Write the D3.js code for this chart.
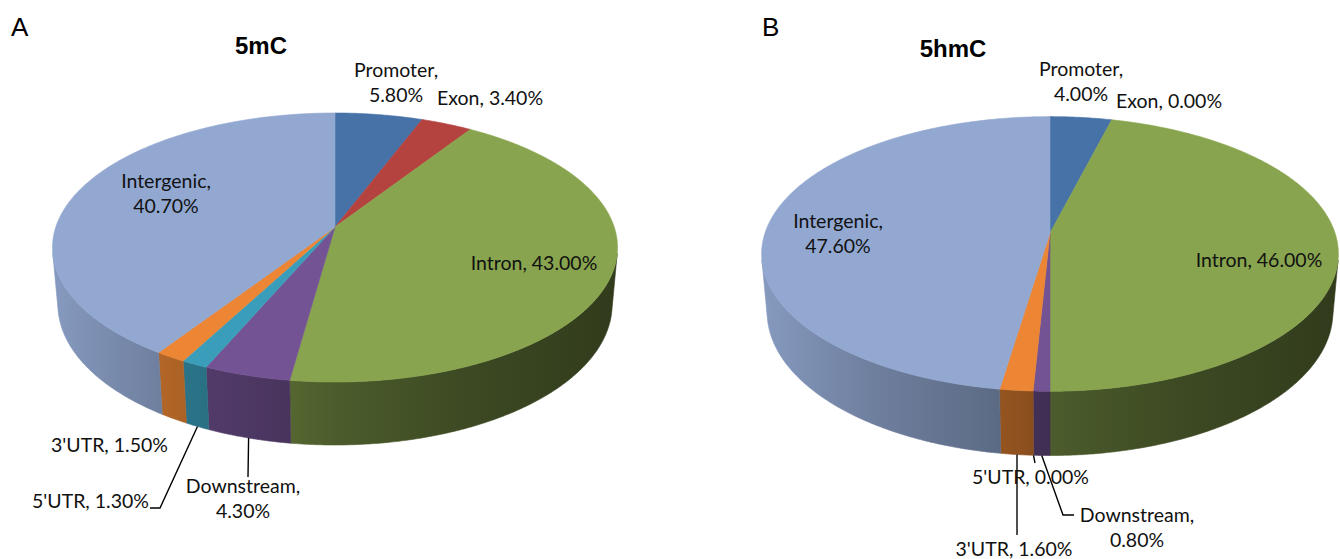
<!DOCTYPE html>
<html>
<head>
<meta charset="utf-8">
<script src="https://cdn.jsdelivr.net/npm/d3@7"></script>
<style>
  html, body { margin: 0; padding: 0; background: #ffffff; }
  svg { display: block; }
</style>
</head>
<body>
<svg id="chart" width="1340" height="559"></svg>
<script>
// ---- data ----
const categories = ["Promoter", "Exon", "Intron", "Downstream", "5'UTR", "3'UTR", "Intergenic"];
const values5mC  = [5.8, 3.4, 43.0, 4.3, 1.3, 1.5, 40.7];
const values5hmC = [4.0, 0.0, 46.0, 0.8, 0.0, 1.6, 47.6];
const panelLetters = ["A", "B"];
const panelTitles  = ["5mC", "5hmC"];

// top-face colour of each category
const sliceColors = ["#4672A8", "#B4423F", "#88A44E", "#735394", "#3A9EBA", "#EC8634", "#92A8D1"];

// ---- 3D pie geometry (radius units) ----
const sinTilt = 0.4706, cosTilt = Math.sqrt(1 - sinTilt * sinTilt);
const camDist = 5.789;      // perspective distance
const depth = 0.2335;       // wall height
const aVis = Math.acos(-1 / (camDist * cosTilt)); // first angle of the visible wall

// side shading along the pie width (fraction of width -> brightness)
const shadeStops = [[0, 0.92], [0.2, 0.75], [0.4, 0.64], [0.5, 0.56], [0.72, 0.45], [1, 0.36]];

// ---- layout of each panel ----
const panels = [
  {
    values: values5mC, cx: 335, cy: 227, s: 279.2,
    letterPos: [11, 36], titlePos: [261, 54],
    labels: [
      { dx: 61,   dy: -150, anchor: "middle", split: true },
      { dx: 102,  dy: -122, anchor: "start" },
      { dx: 199,  dy: 43,   anchor: "middle" },
      { dx: -92,  dy: 266,  anchor: "middle", split: true, leader: [[248 - 335, 477 - 227]] },
      { dx: -303, dy: 281,  anchor: "start", leader: [[160 - 335, 508 - 227], [150 - 335, 508 - 227]] },
      { dx: -284, dy: 225,  anchor: "start" },
      { dx: -169, dy: -39,  anchor: "middle", split: true }
    ]
  },
  {
    values: values5hmC, cx: 1050, cy: 233, s: 285,
    letterPos: [762, 36], titlePos: [953, 57],
    labels: [
      { dx: 31,   dy: -157, anchor: "middle", split: true },
      { dx: 66,   dy: -125, anchor: "start" },
      { dx: 209,  dy: 34,   anchor: "middle" },
      { dx: 87,   dy: 289,  anchor: "middle", split: true, leader: [[1063 - 1050, 515 - 233], [1074 - 1050, 515 - 233]] },
      { dx: -78,  dy: 251,  anchor: "start", leader: [[1035 - 1050, 463 - 233]] },
      { dx: -36,  dy: 323,  anchor: "middle", leader: [[1017 - 1050, 535 - 233]] },
      { dx: -212, dy: -5,   anchor: "middle", split: true }
    ]
  }
];

const svg = d3.select("#chart");
const defs = svg.append("defs");
const fmt = d3.format(".2f");
const pie = d3.pie().sort(null).value(d => d).startAngle(0).endAngle(2 * Math.PI);

function projector(p) {
  // angle a clockwise from the back of the pie, r radius, yh height (0 = top face)
  return function (a, r, yh) {
    const X = r * Math.sin(a), Z = -r * Math.cos(a);
    const v = yh * cosTilt - Z * sinTilt;
    const w = yh * sinTilt + Z * cosTilt;
    const k = camDist / (camDist - w);
    return [p.cx + p.s * X * k, p.cy - p.s * v * k];
  };
}

function arcPoints(proj, a0, a1, yh) {
  const n = Math.max(2, Math.ceil(Math.abs(a1 - a0) / (Math.PI / 360)));
  return d3.range(n + 1).map(i => proj(a0 + (a1 - a0) * i / n, 1, yh));
}

panels.forEach((p, pi) => {
  const g = svg.append("g");
  const proj = projector(p);
  const arcs = pie(p.values);
  const x0 = p.cx - p.s * 1.02, x1 = p.cx + p.s * 1.02;

  // wall gradients
  sliceColors.forEach((c, ci) => {
    const base = d3.rgb(c);
    const grad = defs.append("linearGradient")
      .attr("id", `wall-${pi}-${ci}`)
      .attr("gradientUnits", "userSpaceOnUse")
      .attr("x1", x0).attr("x2", x1).attr("y1", 0).attr("y2", 0);
    shadeStops.forEach(([t, f]) => {
      grad.append("stop")
        .attr("offset", t)
        .attr("stop-color", d3.rgb(base.r * f, base.g * f, base.b * f).formatHex());
    });
  });

  // visible walls
  arcs.forEach((d, i) => {
    if (d.value <= 0) return;
    const lo = Math.max(d.startAngle, aVis), hi = Math.min(d.endAngle, 2 * Math.PI - aVis);
    if (hi <= lo) return;
    const pts = arcPoints(proj, lo, hi, 0).concat(arcPoints(proj, hi, lo, -depth));
    g.append("path")
      .attr("d", "M" + pts.map(q => q.join(",")).join("L") + "Z")
      .attr("fill", `url(#wall-${pi}-${i})`)
      .attr("stroke", `url(#wall-${pi}-${i})`)
      .attr("stroke-width", 0.6);
  });

  // top faces
  arcs.forEach((d, i) => {
    if (d.value <= 0) return;
    const pts = [proj(0, 0, 0)].concat(arcPoints(proj, d.startAngle, d.endAngle, 0));
    g.append("path")
      .attr("d", "M" + pts.map(q => q.join(",")).join("L") + "Z")
      .attr("fill", sliceColors[i])
      .attr("stroke", sliceColors[i])
      .attr("stroke-width", 0.6);
  });

  // leader lines: from the slice's lower rim to its label
  arcs.forEach((d, i) => {
    const L = p.labels[i];
    if (!L.leader) return;
    const mid = (d.startAngle + d.endAngle) / 2;
    const start = proj(mid, 1, -depth);
    const pts = [start].concat(L.leader.map(([dx, dy]) => [p.cx + dx, p.cy + dy]));
    g.append("path")
      .attr("d", "M" + pts.map(q => q.join(",")).join("L"))
      .attr("fill", "none")
      .attr("stroke", "#000")
      .attr("stroke-width", 1.4);
  });

  // data labels
  arcs.forEach((d, i) => {
    const L = p.labels[i];
    const name = categories[i], pct = fmt(d.value) + "%";
    const t = g.append("text")
      .attr("x", p.cx + L.dx)
      .attr("y", p.cy + L.dy)
      .attr("text-anchor", L.anchor)
      .attr("font-family", "Lato, 'Open Sans', sans-serif")
      .attr("font-size", "19.5px")
      .attr("fill", "#111");
    if (L.split) {
      t.append("tspan").attr("x", p.cx + L.dx).text(name + ",");
      t.append("tspan").attr("x", p.cx + L.dx).attr("dy", 24.5).text(pct);
    } else {
      t.text(name + ", " + pct);
    }
  });

  // panel letter and title
  svg.append("text")
    .attr("x", p.letterPos[0]).attr("y", p.letterPos[1])
    .attr("font-family", "'Liberation Sans', Arial, sans-serif")
    .attr("font-size", "26px")
    .attr("fill", "#000")
    .text(panelLetters[pi]);
  svg.append("text")
    .attr("x", p.titlePos[0]).attr("y", p.titlePos[1])
    .attr("text-anchor", "middle")
    .attr("font-family", "'Liberation Sans', Arial, sans-serif")
    .attr("font-weight", "bold")
    .attr("font-size", "24px")
    .attr("fill", "#000")
    .text(panelTitles[pi]);
});
</script>
</body>
</html>
